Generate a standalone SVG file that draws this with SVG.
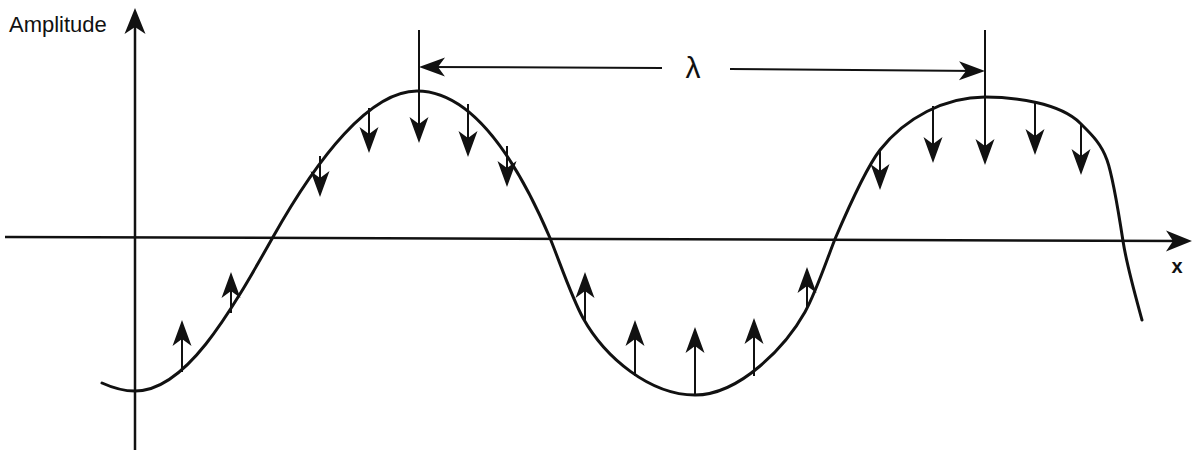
<svg xmlns="http://www.w3.org/2000/svg" width="1198" height="450" viewBox="0 0 1198 450">
<style>
.ax{stroke:#111;stroke-width:2.5;fill:none}
.wave{stroke:#111;stroke-width:3;fill:none;stroke-linecap:round}
.arr{stroke:#111;stroke-width:2;fill:none;marker-end:url(#ah)}
.lbl{font-family:"Liberation Sans",Arial,sans-serif;fill:#111}
</style>
<defs>
<marker id="ah" markerUnits="userSpaceOnUse" viewBox="-27 -11 29 22" markerWidth="29" markerHeight="22" refX="-6" refY="0" orient="auto">
<path d="M0,0 L-26,-9.5 L-19,0 L-26,9.5 Z" fill="#111"/>
</marker>
<marker id="axh" markerUnits="userSpaceOnUse" viewBox="-27 -12 29 24" markerWidth="29" markerHeight="24" refX="-6" refY="0" orient="auto">
<path d="M0,0 L-26,-10.5 L-19,0 L-26,10.5 Z" fill="#111"/>
</marker>
</defs>
<rect width="1198" height="450" fill="#fff"/>
<g id="axes">
<line class="ax" x1="135" y1="450" x2="135" y2="14" marker-end="url(#axh)"/>
<line class="ax" x1="5" y1="237" x2="1186" y2="241" marker-end="url(#axh)"/>
<text class="lbl" x="9" y="32" font-size="22">Amplitude</text>
<text class="lbl" x="1177" y="273" font-size="20" font-weight="bold" text-anchor="middle">x</text>
</g>
<g id="wave">
<path class="wave" d="M102,383 C113,388 124,391 135,391 C185,391 228,317 273,237 C318,157 370,91 417,91 C475,91 520,168 550,238 C561,265.5 572,298 583,318 C605,357.6 650,395 695,395 C740,395 786,346 805,312 C816,292.2 826,262 835,239 C847,211 866,168 880,150 C905,118 945,97 985,97 C1015,97 1060,103 1080,123 C1091,134 1101,143 1107,160 C1112,174 1119,215 1123,241 C1127,267 1138,305 1142,320"/>
</g>
<g id="connectors">
<g id="crest1-arrows">
<line class="arr" x1="320" y1="156" x2="320" y2="191"/>
<line class="arr" x1="369" y1="108" x2="369" y2="147"/>
<line class="arr" x1="419" y1="30" x2="419" y2="137"/>
<line class="arr" x1="468" y1="104" x2="468" y2="151"/>
<line class="arr" x1="507" y1="146" x2="507" y2="181"/>
</g>
<g id="crest2-arrows">
<line class="arr" x1="880" y1="150" x2="880" y2="184"/>
<line class="arr" x1="933" y1="106" x2="933" y2="157"/>
<line class="arr" x1="985" y1="30" x2="985" y2="159"/>
<line class="arr" x1="1035" y1="102" x2="1035" y2="149"/>
<line class="arr" x1="1081" y1="124" x2="1081" y2="169"/>
</g>
<g id="trough1-arrows">
<line class="arr" x1="182" y1="372" x2="182" y2="326"/>
<line class="arr" x1="231" y1="313" x2="231" y2="278"/>
</g>
<g id="trough2-arrows">
<line class="arr" x1="585" y1="321" x2="585" y2="278"/>
<line class="arr" x1="635" y1="376" x2="635" y2="326"/>
<line class="arr" x1="695" y1="395" x2="695" y2="333"/>
<line class="arr" x1="754" y1="376" x2="754" y2="324"/>
<line class="arr" x1="807" y1="309" x2="807" y2="273"/>
</g>
<g id="wavelength">
<line class="arr" x1="662" y1="68" x2="425" y2="67"/>
<line class="arr" x1="730" y1="69" x2="979" y2="71"/>
</g>
</g>
<g id="lambda-label">
<text class="lbl" x="693" y="78" font-size="30" text-anchor="middle">λ</text>
</g>
</svg>
